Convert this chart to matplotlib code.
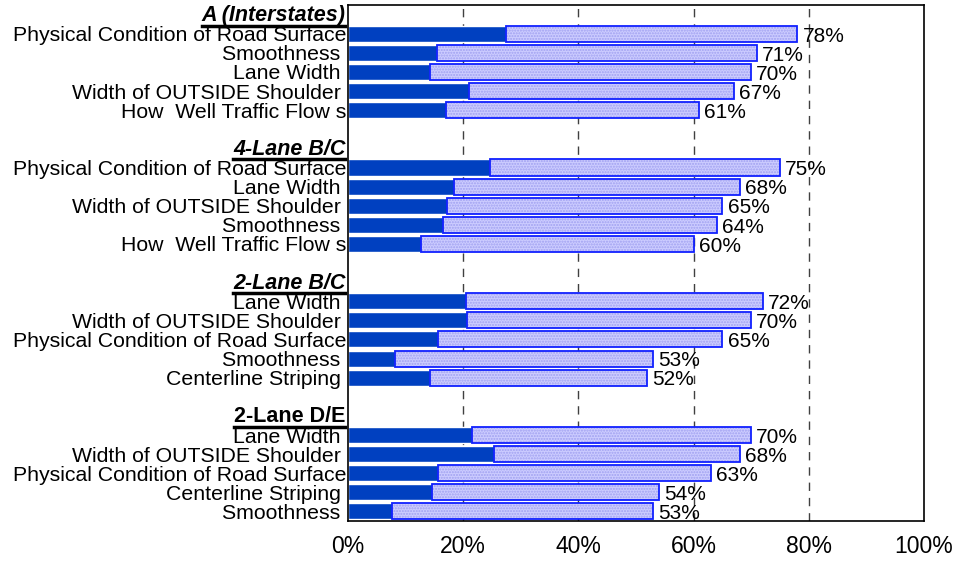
import matplotlib
matplotlib.use("Agg")
import matplotlib.pyplot as plt
from matplotlib.lines import Line2D

plt.rcParams['font.family'] = ['Liberation Sans', 'DejaVu Sans']

groups = ["A (Interstates)", "4-Lane B/C", "2-Lane B/C", "2-Lane D/E"]
group_italic = [True, True, True, False]

items = [
    ["Physical Condition of Road Surface", "Smoothness ", "Lane Width ",
     "Width of OUTSIDE Shoulder ", "How  Well Traffic Flow s"],
    ["Physical Condition of Road Surface", "Lane Width ", "Width of OUTSIDE Shoulder ",
     "Smoothness ", "How  Well Traffic Flow s"],
    ["Lane Width ", "Width of OUTSIDE Shoulder ", "Physical Condition of Road Surface",
     "Smoothness ", "Centerline Striping "],
    ["Lane Width ", "Width of OUTSIDE Shoulder ", "Physical Condition of Road Surface",
     "Centerline Striping ", "Smoothness "],
]

# dark segment (%) and total satisfied (%)
dark = [
    [27.4, 15.5, 14.3, 21.1, 17.0],
    [24.7, 18.4, 17.3, 16.5, 12.7],
    [20.5, 20.7, 15.6, 8.2, 14.2],
    [21.5, 25.3, 15.6, 14.6, 7.6],
]
total = [
    [78, 71, 70, 67, 61],
    [75, 68, 65, 64, 60],
    [72, 70, 65, 53, 52],
    [70, 68, 63, 54, 53],
]

xticks = [0, 20, 40, 60, 80, 100]

fig = plt.figure(figsize=(9.62, 5.61), dpi=100)
ax = fig.add_axes([0.3615, 0.0713, 0.599, 0.9197])

bar_h = 0.84
ypos, labels, d_vals, t_vals = [], [], [], []
for g in range(len(groups)):
    for i in range(5):
        ypos.append(g * 7 + 1 + i)
        labels.append(items[g][i])
        d_vals.append(dark[g][i])
        t_vals.append(total[g][i])
light = [t - d for t, d in zip(t_vals, d_vals)]

# grid
for x in xticks[1:-1]:
    ax.axvline(x, color="#404040", lw=1.0, ls=(0, (6, 5)), zorder=0)

ax.barh(ypos, d_vals, height=bar_h, color="#0040C0", edgecolor="white", lw=1.0, zorder=2)
ax.barh(ypos, light, left=d_vals, height=bar_h, color="#CCCCFF", edgecolor="#A0A0F0",
        hatch="......", lw=0, zorder=2)
ax.barh(ypos, light, left=d_vals, height=bar_h, color="none", edgecolor="#1020FF",
        lw=1.3, zorder=3)

for y, t in zip(ypos, t_vals):
    ax.text(t + 0.9, y + 0.12, f"{t}%", va="center", ha="left", fontsize=15, zorder=4)

ax.set_xlim(0, 100)
ax.set_ylim(26.5, -0.5)
ax.set_xticks(xticks)
ax.set_xticklabels([f"{x}%" for x in xticks], fontsize=16.5)
ax.tick_params(axis="x", length=0, pad=10)
ax.set_yticks(ypos)
ax.set_yticklabels(labels, fontsize=15.3)
ax.tick_params(axis="y", length=0, pad=1)
for s in ax.spines.values():
    s.set_color("black")
    s.set_linewidth(1.2)

heads = []
for g, name in enumerate(groups):
    t = ax.text(-0.004, g * 7 + 0.05, name, transform=ax.get_yaxis_transform(),
                ha="right", va="center", fontsize=15.5, fontweight="bold",
                style="italic" if group_italic[g] else "normal")
    heads.append(t)

fig.canvas.draw()
r = fig.canvas.get_renderer()
for t in heads:
    bb = t.get_window_extent(r).transformed(fig.transFigure.inverted())
    yl = bb.y0 + 0.5 / 561
    fig.add_artist(Line2D([bb.x0, bb.x1], [yl, yl], color="black", lw=2.5,
                          transform=fig.transFigure))

fig.savefig("out.png", dpi=100)
